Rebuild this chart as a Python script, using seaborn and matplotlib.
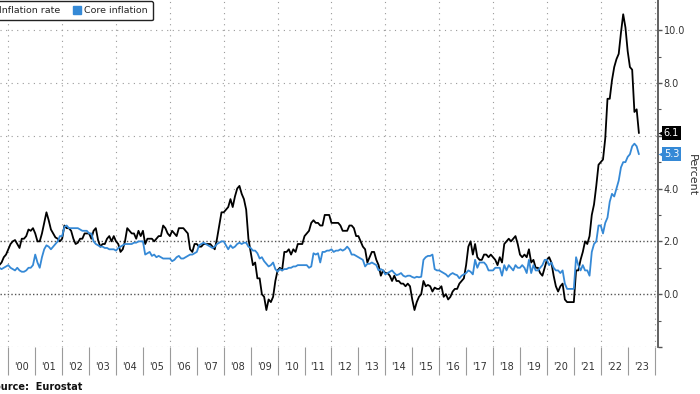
import matplotlib
matplotlib.use("Agg")
import matplotlib.pyplot as plt
import matplotlib.transforms as mtransforms
from matplotlib.lines import Line2D
import numpy as np
import pandas as pd
import seaborn as sns

# Euro area, year-on-year %, monthly (month end), Aug 1999 .. May 2023
inflation_rate = [
    1.1, 1.2, 1.4, 1.5, 1.7,                                          # 1999 Aug-Dec
    1.9, 2.0, 2.05, 1.9, 1.75, 2.1, 2.1, 2.2, 2.45, 2.4, 2.5, 2.3,    # 2000
    2.0, 2.0, 2.3, 2.7, 3.1, 2.8, 2.45, 2.3, 2.15, 2.1, 2.0, 2.1,     # 2001
    2.6, 2.5, 2.5, 2.4, 2.1, 1.9, 1.95, 2.1, 2.1, 2.3, 2.3, 2.3,      # 2002
    2.1, 2.4, 2.5, 2.05, 1.8, 1.9, 1.9, 2.1, 2.2, 2.0, 2.2, 2.0,      # 2003
    1.9, 1.6, 1.7, 2.0, 2.5, 2.4, 2.3, 2.3, 2.1, 2.4, 2.2, 2.4,       # 2004
    1.9, 2.1, 2.1, 2.1, 2.0, 2.1, 2.2, 2.2, 2.6, 2.5, 2.3, 2.2,       # 2005
    2.4, 2.3, 2.2, 2.5, 2.5, 2.5, 2.4, 2.3, 1.7, 1.6, 1.9, 1.9,       # 2006
    1.8, 1.8, 1.9, 1.9, 1.9, 1.9, 1.8, 1.7, 2.1, 2.6, 3.1, 3.1,       # 2007
    3.2, 3.3, 3.6, 3.3, 3.7, 4.0, 4.1, 3.8, 3.6, 3.2, 2.1, 1.6,       # 2008
    1.1, 1.2, 0.6, 0.6, 0.0, -0.1, -0.6, -0.2, -0.3, -0.1, 0.5, 0.9,  # 2009
    1.0, 0.9, 1.6, 1.6, 1.7, 1.5, 1.7, 1.6, 1.9, 1.9, 1.9, 2.2,       # 2010
    2.3, 2.4, 2.7, 2.8, 2.7, 2.7, 2.6, 2.6, 3.0, 3.0, 3.0, 2.7,       # 2011
    2.7, 2.7, 2.7, 2.6, 2.4, 2.4, 2.4, 2.6, 2.6, 2.5, 2.2, 2.2,       # 2012
    2.0, 1.8, 1.7, 1.2, 1.4, 1.6, 1.6, 1.3, 1.1, 0.7, 0.9, 0.8,       # 2013
    0.8, 0.7, 0.5, 0.7, 0.5, 0.5, 0.4, 0.4, 0.3, 0.4, 0.3, -0.2,      # 2014
    -0.6, -0.3, -0.1, 0.0, 0.5, 0.3, 0.35, 0.3, 0.1, 0.25, 0.2, 0.2,  # 2015
    0.3, -0.1, 0.0, -0.2, -0.1, 0.1, 0.2, 0.2, 0.4, 0.5, 0.6, 1.1,    # 2016
    1.8, 2.0, 1.5, 1.9, 1.4, 1.3, 1.3, 1.5, 1.5, 1.4, 1.5, 1.4,       # 2017
    1.3, 1.1, 1.4, 1.2, 1.9, 2.0, 2.1, 2.0, 2.1, 2.2, 1.9, 1.5,       # 2018
    1.4, 1.5, 1.4, 1.7, 1.2, 1.3, 1.0, 1.0, 0.8, 0.7, 1.0, 1.3,       # 2019
    1.4, 1.2, 0.7, 0.3, 0.1, 0.3, 0.4, -0.2, -0.3, -0.3, -0.3, -0.3,  # 2020
    0.9, 0.9, 1.3, 1.6, 2.0, 1.9, 2.2, 3.0, 3.4, 4.1, 4.9, 5.0,       # 2021
    5.1, 5.9, 7.4, 7.4, 8.1, 8.6, 8.9, 9.1, 9.9, 10.6, 10.1, 9.2,     # 2022
    8.6, 8.5, 6.9, 7.0, 6.1,                                          # 2023 Jan-May
]

core_inflation = [
    1.0, 0.95, 1.0, 1.05, 1.1,                                        # 1999 Aug-Dec
    1.0, 0.95, 0.9, 1.0, 0.9, 0.85, 0.85, 0.9, 1.0, 1.0, 1.1, 1.5,    # 2000
    1.2, 1.0, 1.4, 1.7, 1.85, 1.8, 1.7, 1.8, 1.9, 2.0, 2.2, 2.2,      # 2001
    2.55, 2.6, 2.5, 2.5, 2.5, 2.5, 2.5, 2.45, 2.4, 2.4, 2.4, 2.3,     # 2002
    2.3, 2.0, 1.9, 1.85, 1.8, 1.8, 1.75, 1.75, 1.7, 1.7, 1.7, 1.65,   # 2003
    1.75, 1.8, 1.85, 1.9, 1.9, 1.9, 1.9, 1.95, 1.95, 2.0, 2.0, 2.0,   # 2004
    1.5, 1.55, 1.6, 1.45, 1.5, 1.4, 1.45, 1.4, 1.35, 1.35, 1.35, 1.35,  # 2005
    1.25, 1.3, 1.4, 1.45, 1.35, 1.35, 1.4, 1.45, 1.5, 1.5, 1.55, 1.6,   # 2006
    1.85, 1.9, 1.95, 1.9, 1.85, 1.8, 1.75, 1.8, 1.9, 1.95, 2.0, 2.0,    # 2007
    1.85, 1.7, 1.85, 1.75, 1.8, 1.9, 1.95, 1.9, 1.95, 1.95, 1.8, 1.75,  # 2008
    1.65, 1.65, 1.55, 1.35, 1.4, 1.25, 1.15, 1.05, 1.1, 1.2, 0.95, 0.85,  # 2009
    0.95, 0.9, 0.95, 0.95, 1.0, 1.0, 1.05, 1.05, 1.1, 1.1, 1.1, 1.1,      # 2010
    1.1, 1.0, 1.05, 1.55, 1.5, 1.55, 1.2, 1.6, 1.6, 1.65, 1.65, 1.7,      # 2011
    1.6, 1.65, 1.65, 1.7, 1.65, 1.7, 1.8, 1.7, 1.5, 1.5, 1.45, 1.4,       # 2012
    1.35, 1.3, 1.05, 1.15, 1.15, 1.2, 1.15, 1.1, 0.9, 0.95, 0.9, 0.75,    # 2013
    0.8, 0.85, 0.9, 0.8, 0.72, 0.75, 0.8, 0.7, 0.66, 0.7, 0.7, 0.65,      # 2014
    0.62, 0.66, 0.64, 0.66, 1.3, 1.4, 1.45, 1.45, 1.5, 0.95, 0.9, 0.9,    # 2015
    0.85, 0.8, 0.75, 0.66, 0.75, 0.8, 0.75, 0.72, 0.6, 0.7, 0.75, 0.8,    # 2016
    0.9, 0.85, 0.75, 1.3, 1.0, 1.2, 1.2, 1.2, 1.1, 0.9, 0.9, 0.9,         # 2017
    1.0, 1.0, 1.0, 0.7, 1.1, 0.9, 1.1, 1.0, 0.9, 1.1, 1.0, 1.0,           # 2018
    1.1, 1.0, 0.8, 1.3, 0.8, 1.1, 0.9, 0.9, 1.0, 1.1, 1.3, 1.3,           # 2019
    1.1, 1.2, 1.0, 0.9, 0.9, 0.8, 0.9, 0.4, 0.2, 0.2, 0.2, 0.2,           # 2020
    1.4, 1.1, 0.9, 1.1, 0.9, 0.9, 0.7, 1.6, 1.9, 2.0, 2.6, 2.6,           # 2021
    2.3, 2.7, 2.9, 3.5, 3.8, 3.7, 4.0, 4.3, 4.8, 5.0, 5.0, 5.2,           # 2022
    5.3, 5.6, 5.7, 5.6, 5.3,                                              # 2023 Jan-May
]

series_names = ["Inflation rate", "Core inflation"]
series_colors = ["#000000", "#3589d6"]
year_labels = list(range(1999, 2024))

assert len(inflation_rate) == len(core_inflation)
months = pd.period_range("1999-08", periods=len(inflation_rate), freq="M")
t = months.year + months.month / 12.0  # month end as fractional year

df = pd.concat([
    pd.DataFrame({"date": t, "value": inflation_rate, "series": series_names[0]}),
    pd.DataFrame({"date": t, "value": core_inflation, "series": series_names[1]}),
])

sns.set_style("white")
plt.rcParams["font.family"] = ["DejaVu Sans"]

fig = plt.figure(figsize=(7, 3.94), dpi=100)
ax = fig.add_axes([0, 47 / 394, 657.5 / 700, 347 / 394])

# grid
for y in [4, 6, 8, 10, -2]:
    ax.axhline(y, color="#9a9a9a", lw=0.8, ls=(0, (1, 4)), zorder=0)
for y in [0, 2]:
    ax.axhline(y, color="#555555", lw=1.0, ls=(0, (1, 1.6)), zorder=0)
for x in range(2000, 2025, 2):
    ax.axvline(x, color="#9a9a9a", lw=0.8, ls=(0, (1, 4)), zorder=0)

sns.lineplot(data=df, x="date", y="value", hue="series", hue_order=series_names,
             palette=dict(zip(series_names, series_colors)), linewidth=1.3,
             legend=False, ax=ax, zorder=3)

ax.set_xlabel("")
ax.set_ylabel("")

for s in ["left", "top", "bottom"]:
    ax.spines[s].set_visible(False)
ax.spines["right"].set_color("#555555")
ax.spines["right"].set_linewidth(1.3)

# x axis: separators at year boundaries, labels centred in each year
ax.set_xticks(range(1999, 2025))
ax.set_xticklabels([])
ax.set_xticks([y + 0.5 for y in year_labels], minor=True)
ax.set_xticklabels([f"'{y % 100:02d}" for y in year_labels], minor=True)
ax.tick_params(axis="x", which="major", direction="out", length=20, width=0.8,
               color="#9a9a9a", bottom=True)
ax.tick_params(axis="x", which="minor", length=0, pad=11, labelsize=7,
               labelcolor="#333333", bottom=True)

# y axis on the right (6.0 label sits under the last-value tag)
ax.yaxis.tick_right()
yt = [-2, 0, 2, 4, 6, 8, 10]
ax.set_yticks(yt)
ax.set_yticklabels(["" if v in (-2, 6) else f"{v:.1f}" for v in yt])
ax.set_yticks([-1, 1, 3, 5, 7, 9], minor=True)
ax.tick_params(axis="y", which="major", direction="out", length=3, width=1,
               color="#555555", labelsize=7, labelcolor="#333333", pad=1.5, right=True)
ax.tick_params(axis="y", which="minor", direction="out", length=2, width=0.8,
               color="#555555", right=True)

# limits last, set_xticks would otherwise widen them
ax.set_xlim(1999.692, 2024.107)
ax.set_ylim(-2.0, 11.14)

# last value tags
trans = ax.get_yaxis_transform()
for vals, col in zip([inflation_rate, core_inflation], series_colors):
    v = vals[-1]
    ax.annotate(f"{v:.1f}", xy=(1, v), xycoords=trans, xytext=(4.5, 0),
                textcoords="offset points", ha="left", va="center", fontsize=7,
                color="white", annotation_clip=False, zorder=6,
                bbox=dict(boxstyle="square,pad=0.2", fc=col, ec="none"))
    off = mtransforms.offset_copy(trans, fig=fig, x=3.2, y=0, units="points")
    ax.plot([1], [v], marker="<", ms=6, color=col, mec="none", transform=off,
            clip_on=False, zorder=5)

fig.text(692 / 700, 1 - 175 / 394, "Percent", rotation=-90, ha="center",
         va="center", fontsize=8, color="#333333")

handles = [Line2D([], [], marker="s", ls="none", color=c, mec=c, ms=5.5, label=n)
           for n, c in zip(series_names, series_colors)]
leg = fig.legend(handles=handles, loc="upper right", bbox_to_anchor=(153 / 700, 1 - 1 / 394),
                 ncol=2, fontsize=6.8, frameon=True, fancybox=True, framealpha=1,
                 edgecolor="#222222", borderpad=0.55, handlelength=0.8,
                 handletextpad=0.4, columnspacing=1.3, borderaxespad=0)
leg.get_frame().set_linewidth(1.0)

fig.text(82 / 700, 1 - 387 / 394, "Source:  Eurostat", ha="right", va="center",
         fontsize=7, fontweight="bold", color="#111111")

fig.savefig("out.png", dpi=100)
